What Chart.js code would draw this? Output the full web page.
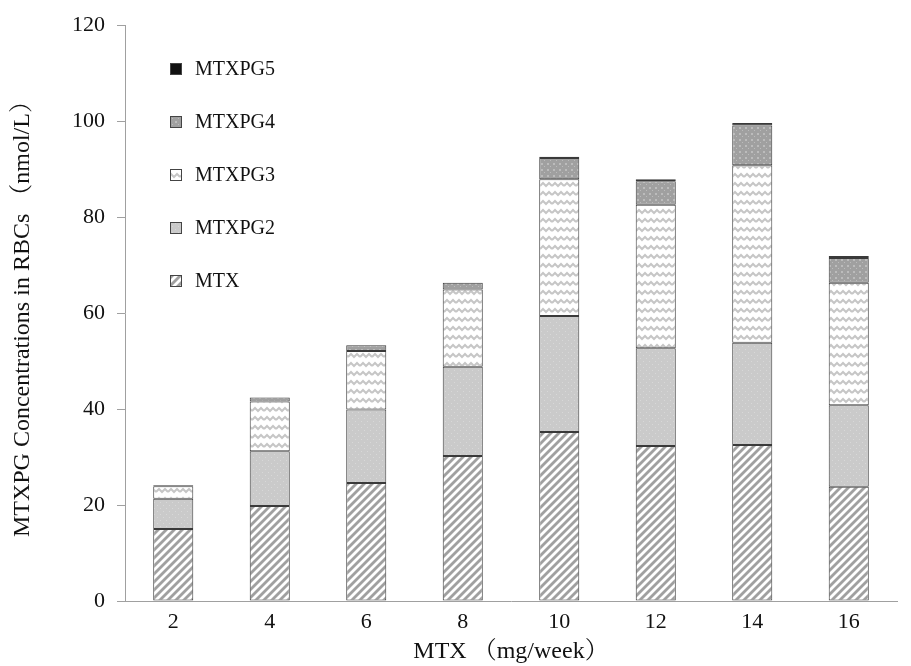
<!DOCTYPE html>
<html>
<head>
<meta charset="utf-8">
<script src="https://cdn.jsdelivr.net/npm/chart.js@4.4.1/dist/chart.umd.min.js"></script>
<style>
  html, body { margin: 0; padding: 0; background: #fff; }
  #wrap { width: 911px; height: 666px; }
</style>
</head>
<body>
<div id="wrap"><canvas id="grafica" width="911" height="666"></canvas></div>
<script>
const doses = ['2', '4', '6', '8', '10', '12', '14', '16'];
const mtx   = [15.0, 19.8, 24.6, 30.2, 35.2, 32.3, 32.5, 23.8];
const pg2   = [6.3, 11.4, 15.3, 18.6, 24.2, 20.4, 21.3, 17.0];
const pg3   = [2.6, 10.4, 12.2, 16.1, 28.5, 29.9, 37.0, 25.5];
const pg4   = [0.2, 0.8, 1.2, 1.4, 4.4, 4.9, 8.3, 5.2];
const pg5   = [0, 0, 0, 0, 0.3, 0.4, 0.5, 0.4];
const yTicks = [0, 20, 40, 60, 80, 100, 120];

const FONT = '"Liberation Serif", "Noto Serif CJK SC", "Noto Sans CJK SC", serif';

function tile(w, h, draw) {
    const c = document.createElement('canvas');
    c.width = w; c.height = h;
    const g = c.getContext('2d');
    draw(g, w, h);
    return document.createElement('canvas').getContext('2d').createPattern(c, 'repeat');
}

// diagonal stripes
const patMtx = tile(8, 8, function (g, w, h) {
    g.fillStyle = '#fff'; g.fillRect(0, 0, w, h);
    g.strokeStyle = '#a0a0a0'; g.lineWidth = 2.8;
    for (let k = -1; k <= 1; k++) {
        g.beginPath();
        g.moveTo(k * 8 - 1, h + 1);
        g.lineTo(k * 8 + w + 1, -1);
        g.stroke();
    }
});

// light gray with faint dots
const patPg2 = tile(6, 6, function (g, w, h) {
    g.fillStyle = '#cacaca'; g.fillRect(0, 0, w, h);
    g.fillStyle = '#d8d8d8'; g.fillRect(1, 1, 1, 1); g.fillRect(4, 4, 1, 1);
});

// zigzag waves
const patPg3 = tile(12, 9, function (g, w, h) {
    g.fillStyle = '#fff'; g.fillRect(0, 0, w, h);
    g.strokeStyle = '#c6c6c6'; g.lineWidth = 2;
    g.beginPath();
    g.moveTo(0, 6); g.lineTo(3, 3); g.lineTo(6, 6); g.lineTo(9, 3); g.lineTo(12, 6);
    g.stroke();
});

// dark gray with light dots
const patPg4 = tile(6, 6, function (g, w, h) {
    g.fillStyle = '#a0a0a0'; g.fillRect(0, 0, w, h);
    g.fillStyle = '#bcbcbc'; g.fillRect(1, 1, 2, 2); g.fillRect(4, 4, 1, 1);
});

function serie(label, data, fill) {
    return {
        label: label,
        data: data,
        backgroundColor: fill,
        borderColor: '#3a3a3a',
        borderWidth: 1,
        borderSkipped: false,
        barPercentage: 0.415,
        categoryPercentage: 1.0
    };
}

// legend drawn inside the plot, top-left, last series first
const leyendaInterna = {
    id: 'leyendaInterna',
    afterDraw(chart) {
        const ctx = chart.ctx;
        const sets = chart.data.datasets.slice().reverse();
        ctx.save();
        ctx.font = '20px ' + FONT;
        ctx.textBaseline = 'middle';
        sets.forEach(function (ds, i) {
            const y = 69 + i * 53;
            ctx.fillStyle = ds.backgroundColor;
            ctx.fillRect(170, y - 6, 12, 12);
            ctx.strokeStyle = '#444';
            ctx.lineWidth = 1;
            ctx.strokeRect(170.5, y - 5.5, 11, 11);
            ctx.fillStyle = '#111';
            ctx.fillText(ds.label, 195, y + 1);
        });
        ctx.restore();
    }
};

const ctxBar = document.getElementById('grafica').getContext('2d');
new Chart(ctxBar, {
    type: 'bar',
    data: {
        labels: doses,
        datasets: [
            serie('MTX', mtx, patMtx),
            serie('MTXPG2', pg2, patPg2),
            serie('MTXPG3', pg3, patPg3),
            serie('MTXPG4', pg4, patPg4),
            serie('MTXPG5', pg5, '#111')
        ]
    },
    options: {
        responsive: false,
        animation: false,
        layout: { padding: { top: 15, right: 14, left: 0, bottom: 0 } },
        plugins: {
            legend: { display: false },
            tooltip: { enabled: false }
        },
        scales: {
            x: {
                stacked: true,
                grid: { display: false, drawTicks: false },
                border: { color: '#a0a0a0', width: 1 },
                ticks: { color: '#111', font: { family: FONT, size: 22 }, padding: 8 },
                title: {
                    display: true,
                    text: 'MTX （mg/week）',
                    color: '#111',
                    font: { family: FONT, size: 24 },
                    padding: { top: 5, bottom: 0 }
                },
                afterFit(scale) { scale.height = 65; }
            },
            y: {
                stacked: true,
                min: 0,
                max: 120,
                afterBuildTicks(scale) { scale.ticks = yTicks.map(v => ({ value: v })); },
                grid: { display: true, drawOnChartArea: false, drawTicks: true, tickLength: 8, color: '#a0a0a0' },
                border: { color: '#a0a0a0', width: 1 },
                ticks: { color: '#111', font: { family: FONT, size: 22 }, padding: 12 },
                title: {
                    display: true,
                    text: 'MTXPG Concentrations in RBCs （nmol/L）',
                    color: '#111',
                    font: { family: FONT, size: 24 },
                    padding: { top: 8, bottom: 4 }
                },
                afterFit(scale) { scale.width = 125; }
            }
        }
    },
    plugins: [leyendaInterna]
});
</script>
</body>
</html>
